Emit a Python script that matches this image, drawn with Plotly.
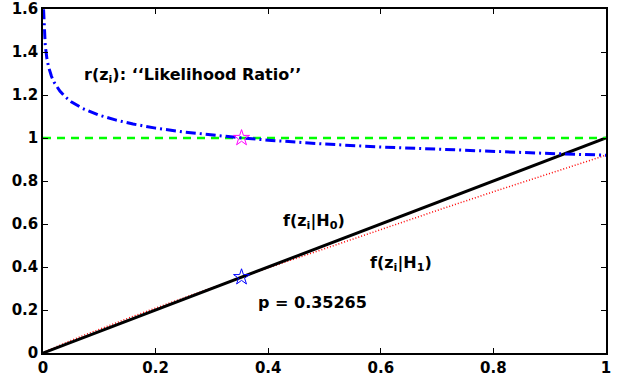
import plotly.graph_objects as go

# z grid and curves
z_vals = [0.001, 0.002, 0.004, 0.007, 0.01, 0.015, 0.02, 0.03, 0.04, 0.05, 0.07, 0.1,
          0.13, 0.16, 0.2, 0.25, 0.3, 0.35, 0.4, 0.5, 0.6, 0.7, 0.8, 0.9, 1.0]
ratio_vals = [1.599, 1.513, 1.431, 1.368, 1.330, 1.287, 1.258, 1.218, 1.190, 1.169, 1.138, 1.106,
              1.083, 1.065, 1.046, 1.028, 1.013, 1.001, 0.990, 0.972, 0.958, 0.947, 0.937, 0.928, 0.920]
f1_z = [0.0] + z_vals
f1_vals = [0.0, 0.0016, 0.0030, 0.0057, 0.0096, 0.0133, 0.0193, 0.0252, 0.0365, 0.0476, 0.0585, 0.0797, 0.1106,
           0.1408, 0.1704, 0.2092, 0.257, 0.304, 0.350, 0.396, 0.486, 0.575, 0.663, 0.750, 0.835, 0.920]
f0_z = [0.0, 1.0]
f0_vals = [0.0, 1.0]
ref_z = [0.0, 1.0]
ref_vals = [1.0, 1.0]
p_value = 0.35265
star_ratio = [1.0]
star_f0 = [0.35265]

x_ticks = [0, 0.2, 0.4, 0.6, 0.8, 1]
y_ticks = [0, 0.2, 0.4, 0.6, 0.8, 1, 1.2, 1.4, 1.6]

FONT = "DejaVu Sans, Liberation Sans, Arial, sans-serif"

fig = go.Figure()
fig.add_trace(go.Scatter(x=f1_z, y=f1_vals, mode="lines",
                         line=dict(color="#ff0000", width=1.5, dash="1px,2px")))
fig.add_trace(go.Scatter(x=f0_z, y=f0_vals, mode="lines",
                         line=dict(color="black", width=3)))
fig.add_trace(go.Scatter(x=ref_z, y=ref_vals, mode="lines",
                         line=dict(color="#00ff00", width=2.5, dash="8px,6px")))
fig.add_trace(go.Scatter(x=z_vals, y=ratio_vals, mode="lines",
                         line=dict(color="#0000ff", width=3, dash="10px,4px,2px,4px")))
fig.add_trace(go.Scatter(x=[p_value], y=star_ratio, mode="markers",
                         marker=dict(symbol="star-open", size=12, color="#ff00ff", line=dict(width=1, color="#ff00ff"))))
fig.add_trace(go.Scatter(x=[p_value], y=star_f0, mode="markers",
                         marker=dict(symbol="star-open", size=12, color="#0000ff", line=dict(width=1, color="#0000ff"))))

font_bold = dict(family=FONT, size=16, color="black", weight="bold")
annos = [
    (0.069, 1.29, "r(z<sub>i</sub>): \u2018\u2018Likelihood Ratio\u2019\u2019"),
    (0.423, 0.61, "f(z<sub>i</sub>|H<sub>0</sub>)"),
    (0.577, 0.415, "f(z<sub>i</sub>|H<sub>1</sub>)"),
    (0.378, 0.233, "p = 0.35265"),
]
for ax_, ay_, txt in annos:
    fig.add_annotation(x=ax_, y=ay_, text=txt, showarrow=False, xanchor="left", yanchor="middle",
                       font=font_bold)

axis_common = dict(showline=True, linecolor="black", linewidth=1.5, mirror="ticks", ticks="inside",
                   ticklen=5, tickwidth=1, tickcolor="black", showgrid=False, zeroline=False,
                   automargin=False, ticklabeloverflow="allow",
                   tickfont=dict(family=FONT, size=15, color="black", weight="bold"))
fig.update_xaxes(range=[0, 1], tickvals=x_ticks, **axis_common)
fig.update_yaxes(range=[0, 1.6], tickvals=y_ticks, **axis_common)
fig.update_layout(width=629, height=376, margin=dict(l=43, r=23, t=9, b=23),
                  plot_bgcolor="white", paper_bgcolor="white", showlegend=False)
# remove the page's default body margin so the figure fills the window exactly
fig.write_html("out.html", config={"displayModeBar": False},
               post_script="document.body.style.margin='0';document.body.style.overflow='hidden';")
